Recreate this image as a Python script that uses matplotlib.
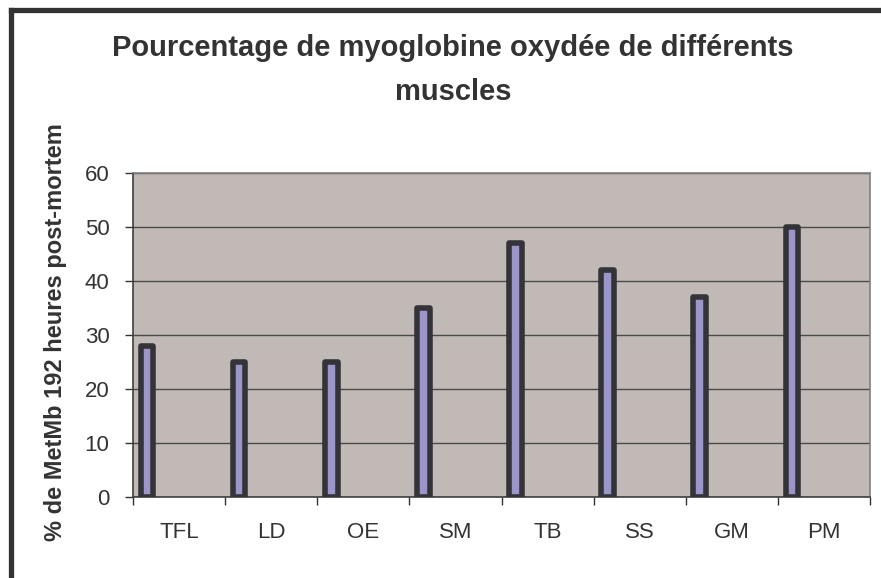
import numpy as np
import matplotlib as mpl
import matplotlib.pyplot as plt
from matplotlib.lines import Line2D

mpl.rc('font', **{'family': 'sans-serif', 'sans-serif': ['Liberation Sans', 'DejaVu Sans']})

# data
muscles = ['TFL', 'LD', 'OE', 'SM', 'TB', 'SS', 'GM', 'PM']
metmb_pct = [28, 25, 25, 35, 47, 42, 37, 50]
yticks = [0, 10, 20, 30, 40, 50, 60]

txt = '#333333'

fig = plt.figure(figsize=(8.81, 5.78), dpi=100)
ax = fig.add_axes([133/881, 81/578, 737/881, 324/578])
ax.set_facecolor('#c1b9b6')

x = np.arange(len(muscles))
# bar sits in the left part of each category slot (Excel style)
ax.bar(x - 0.348, metmb_pct, width=0.136, color='#9c96c8', edgecolor='#333338',
       linewidth=4.0, joinstyle='round', zorder=3)

ax.set_xlim(-0.5, len(muscles) - 0.5)
ax.set_ylim(0, 60)
ax.set_yticks(yticks)
ax.set_yticklabels([str(v) for v in yticks])
ax.yaxis.grid(True, color='#4a4a4a', linewidth=1.0, zorder=1)
ax.set_axisbelow(True)

# category boundaries as major ticks, names centred as minor ticks
ax.set_xticks(np.arange(len(muscles) + 1) - 0.5)
ax.set_xticklabels([])
ax.set_xticks(x, minor=True)
ax.set_xticklabels(muscles, minor=True)
ax.tick_params(axis='x', which='major', length=6, width=1, color='#333333', direction='out')
ax.tick_params(axis='x', which='minor', length=0, pad=18, labelsize=16, labelcolor=txt)
ax.tick_params(axis='y', length=6, width=1, color='#333333', direction='out',
               pad=11, labelsize=16, labelcolor=txt)

for side in ['top', 'right']:
    ax.spines[side].set_color('#808080')
    ax.spines[side].set_linewidth(1.2)
for side in ['left', 'bottom']:
    ax.spines[side].set_color('#404040')
    ax.spines[side].set_linewidth(1.2)

# title and y label
fig.text(453/881, 1 - 48/578, 'Pourcentage de myoglobine oxydée de différents',
         ha='center', va='center', fontsize=21, fontweight='bold', color=txt)
fig.text(453/881, 1 - 92/578, 'muscles',
         ha='center', va='center', fontsize=21, fontweight='bold', color=txt)
fig.text(56/881, 1 - 332/578, '% de MetMb 192 heures post-mortem', rotation=90,
         ha='center', va='center', fontsize=17, fontweight='bold', color=txt)

# chart frame (only left and top edges visible)
fig.add_artist(Line2D([10.5/881, 10.5/881], [0, 1 - 9.5/578], transform=fig.transFigure,
                      color='#333333', linewidth=3.8, solid_capstyle='projecting'))
fig.add_artist(Line2D([10.5/881, 1], [1 - 9.5/578, 1 - 9.5/578], transform=fig.transFigure,
                      color='#333333', linewidth=3.8, solid_capstyle='projecting'))

fig.savefig('out.png', dpi=100)
